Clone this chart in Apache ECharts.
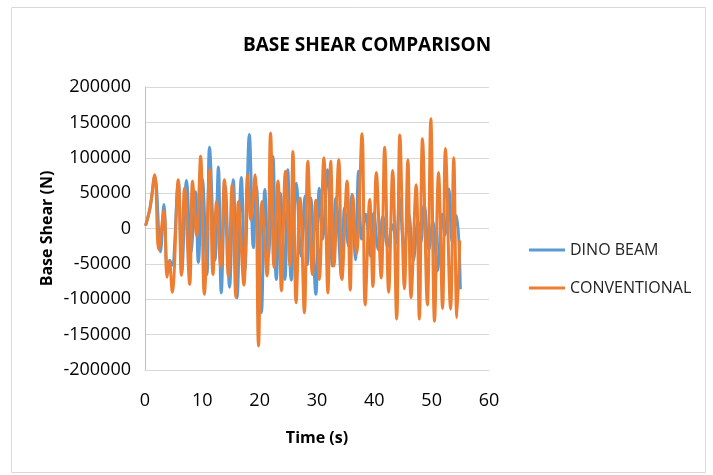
<!DOCTYPE html>
<html>
<head>
<meta charset="utf-8">
<script src="https://cdn.jsdelivr.net/npm/echarts@6/dist/echarts.min.js"></script>
<style>
html,body{margin:0;padding:0;background:#fff;}
#c{width:713px;height:475px;}
</style>
</head>
<body>
<div id="c"></div>
<script>
// Tick values
var xTicks = [0, 10, 20, 30, 40, 50, 60];
var yTicks = [-200000, -150000, -100000, -50000, 0, 50000, 100000, 150000, 200000];

// CONVENTIONAL (orange): time (s) and base shear (N)
var convTime = [0.1, 0.9, 1.7, 2.4, 3.3, 3.85, 4.25, 4.75, 5.8, 6.35, 6.9, 7.8, 8.3, 9.0, 9.7, 10.35, 11.3, 11.85, 12.5, 13.2, 13.85, 14.55, 15.2, 15.85, 16.3, 17.25, 17.9, 18.45, 19.2, 19.8, 20.4, 21.3, 21.9, 22.5, 23.2, 23.8, 24.5, 25.3, 25.8, 26.35, 27.05, 27.8, 28.4, 29.2, 29.8, 30.4, 31.2, 31.9, 32.4, 32.95, 33.8, 34.35, 35.25, 35.8, 36.25, 36.9, 37.85, 38.4, 39.2, 39.75, 40.35, 41.2, 41.8, 42.5, 43.2, 43.9, 44.45, 45.25, 45.85, 46.4, 47.3, 47.85, 48.4, 49.25, 49.85, 50.5, 51.2, 51.9, 52.4, 53.3, 53.85, 54.4, 54.9];
var convValues = [4000, 30000, 76000, -30000, 25000, -69000, -46000, -90000, 69000, -66000, 57000, -79000, 67000, -11000, 102000, -93000, 83000, -65000, 38000, -55000, 69000, -68000, 62000, -97000, 38000, -80000, 76000, 12000, 76000, -166000, 38000, -67000, 135000, -55000, 67000, -88000, 81000, -53000, 109000, -105000, 43000, -119000, 95000, -65000, 40000, -72000, 100000, -91000, 95000, -53000, 97000, -72000, 67000, -87000, 47000, -35000, 134000, -108000, 41000, -82000, 79000, -70000, 115000, -90000, 82000, -128000, 132000, -85000, 97000, -98000, 62000, -128000, 127000, -108000, 155000, -131000, 79000, -113000, 113000, -114000, 100000, -126000, -17000];

// DINO BEAM (blue): time (s) and base shear (N)
var dinoTime = [0.1, 0.9, 1.7, 2.7, 3.3, 3.9, 4.3, 4.7, 5.8, 6.4, 7.25, 8.0, 8.8, 9.3, 10.0, 10.8, 11.25, 12.2, 12.8, 13.3, 14.0, 14.75, 15.4, 16.05, 16.8, 17.4, 18.2, 18.9, 19.4, 20.3, 20.9, 21.5, 22.3, 22.9, 23.6, 24.4, 24.9, 25.5, 26.4, 27.2, 27.9, 28.3, 28.9, 29.8, 30.4, 31.0, 31.8, 32.7, 33.3, 34.3, 34.8, 35.5, 36.1, 36.7, 37.25, 37.8, 38.5, 39.3, 39.9, 40.7, 41.5, 42.3, 43.2, 43.8, 44.4, 45.2, 46.0, 46.8, 47.6, 48.1, 48.7, 49.5, 50.2, 51.0, 51.8, 52.3, 53.0, 53.6, 54.35, 55.0];
var dinoValues = [4000, 30000, 74000, -33000, 34000, -60000, -45000, -52000, 65000, -62000, 68000, -35000, 52000, -48000, 70000, -65000, 115000, -45000, 87000, -91000, 60000, -83000, 69000, -98000, 72000, -60000, 133000, -27000, 60000, -119000, 55000, -40000, 102000, -72000, 50000, -72000, 83000, -73000, 64000, -39000, 46000, -51000, 43000, -93000, 57000, -15000, 83000, -53000, 43000, -70000, 29000, -25000, 48000, -44000, 81000, -15000, 20000, -39000, 22000, -30000, 17000, -25000, 5000, -20000, 43000, -30000, 20000, -45000, 10000, -20000, 34000, -30000, 10000, -60000, 20000, -10000, 56000, -20000, 18000, -86000];

var seriesNames = ['DINO BEAM', 'CONVENTIONAL'];
var seriesColors = ['#5B9BD5', '#ED7D31'];

function zip(a, b) { return a.map(function (t, i) { return [t, b[i]]; }); }

var FONT = 'Open Sans';
var chart = echarts.init(document.getElementById('c'), null, { renderer: 'canvas' });
chart.setOption({
  animation: false,
  backgroundColor: '#ffffff',
  graphic: [{
    type: 'rect', left: 9, top: 5, silent: true,
    shape: { width: 694, height: 465 },
    style: { fill: 'none', stroke: '#d9d9d9', lineWidth: 1 }
  }],
  title: {
    text: 'BASE SHEAR COMPARISON',
    left: 362, top: 31, textAlign: 'center',
    textStyle: { fontFamily: FONT, fontWeight: 'bold', fontSize: 19, color: '#000' }
  },
  legend: {
    orient: 'vertical', left: 524, top: 237, itemGap: 22,
    itemWidth: 36, itemHeight: 3, icon: 'rect',
    textStyle: { fontFamily: FONT, fontSize: 16, color: '#222' },
    data: seriesNames
  },
  grid: { left: 145, right: 224, top: 87, bottom: 105, containLabel: false },
  xAxis: {
    type: 'value', min: xTicks[0], max: xTicks[xTicks.length - 1], interval: 10,
    name: 'Time (s)', nameLocation: 'middle', nameGap: 60,
    nameTextStyle: { fontFamily: FONT, fontWeight: 'bold', fontSize: 16, color: '#000' },
    axisLine: { show: true, onZero: false, lineStyle: { color: '#d9d9d9' } },
    axisTick: { show: false },
    splitLine: { show: false },
    axisLabel: { fontFamily: FONT, fontSize: 18, color: '#000', margin: 22 }
  },
  yAxis: {
    type: 'value', min: yTicks[0], max: yTicks[yTicks.length - 1], interval: 50000,
    name: 'Base Shear (N)', nameLocation: 'middle', nameGap: 90,
    nameTextStyle: { fontFamily: FONT, fontWeight: 'bold', fontSize: 16, color: '#000' },
    axisLine: { show: true, lineStyle: { color: '#bfbfbf' } },
    axisTick: { show: false },
    splitLine: { show: true, lineStyle: { color: '#d9d9d9' } },
    axisLabel: { fontFamily: FONT, fontSize: 18, color: '#000', margin: 14,
      formatter: function (v) { return String(v); } }
  },
  series: [
    {
      name: seriesNames[0], type: 'line', data: zip(dinoTime, dinoValues),
      smooth: 0.4, showSymbol: false,
      lineStyle: { width: 3, color: seriesColors[0] }, itemStyle: { color: seriesColors[0] }
    },
    {
      name: seriesNames[1], type: 'line', data: zip(convTime, convValues),
      smooth: 0.4, showSymbol: false,
      lineStyle: { width: 3, color: seriesColors[1] }, itemStyle: { color: seriesColors[1] }
    }
  ]
});
</script>
</body>
</html>
